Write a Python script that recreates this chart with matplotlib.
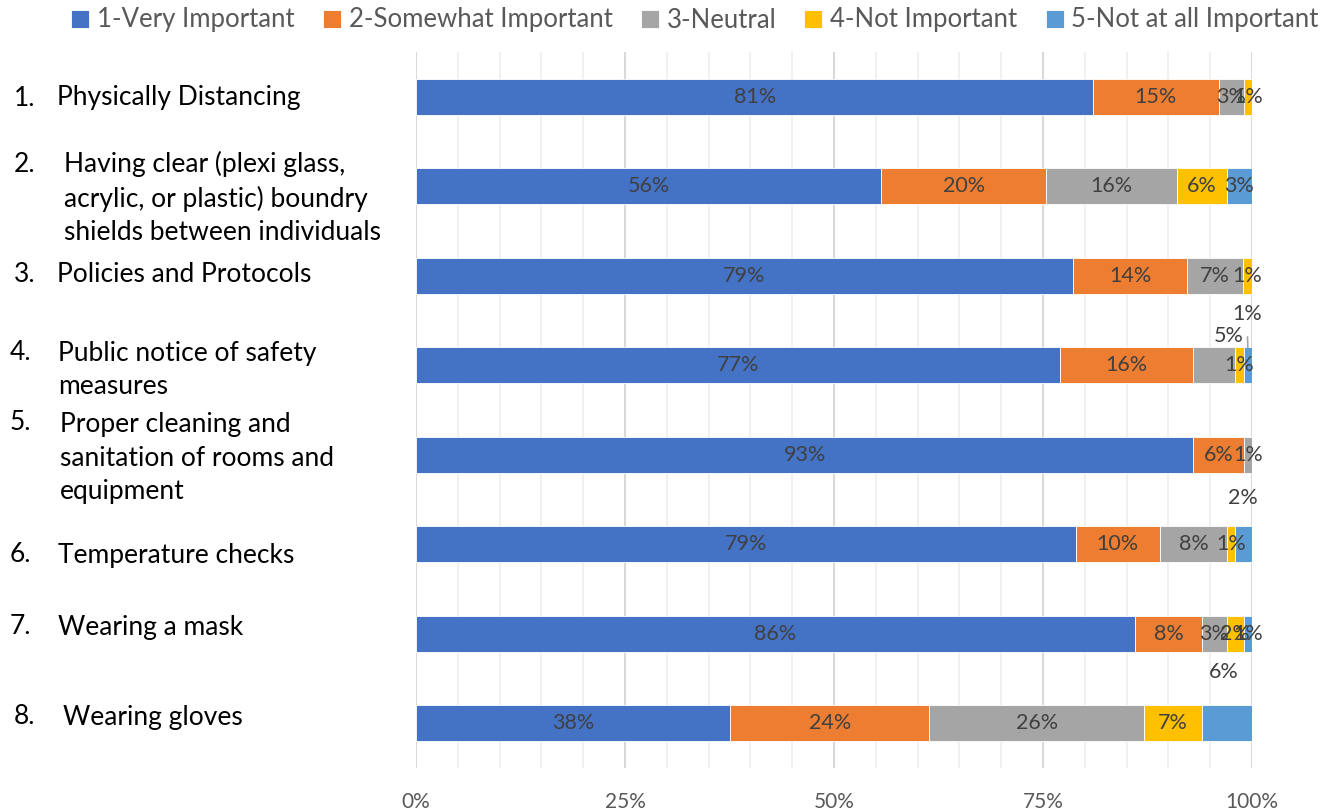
import matplotlib
matplotlib.use('Agg')
import numpy as np
from matplotlib import pyplot
from matplotlib.ticker import MultipleLocator, PercentFormatter

pyplot.rcParams['font.family'] = ['Lato', 'DejaVu Sans']

# Data (percent of respondents)
numbers    = ['1.', '2.', '3.', '4.', '5.', '6.', '7.', '8.']
categories = ['Physically Distancing',
              'Having clear (plexi glass,\nacrylic, or plastic) boundry\nshields between individuals',
              'Policies and Protocols',
              'Public notice of safety\nmeasures',
              'Proper cleaning and\nsanitation of rooms and\nequipment',
              'Temperature checks',
              'Wearing a mask',
              'Wearing gloves']
series_names   = ['1-Very Important', '2-Somewhat Important', '3-Neutral',
                  '4-Not Important', '5-Not at all Important']
very_important = [81.0, 55.6, 78.6, 77.0, 93.0, 78.9, 86.0, 37.6]
somewhat_imp   = [15.0, 19.8, 13.6, 16.0,  6.0, 10.1,  8.0, 23.8]
neutral        = [ 3.0, 15.6,  6.7,  5.0,  1.0,  8.0,  3.0, 25.7]
not_important  = [ 1.0,  6.0,  1.1,  1.0,  0.0,  1.0,  2.0,  6.9]
not_at_all     = [ 0.0,  3.0,  0.0,  1.0,  0.0,  2.0,  1.0,  6.0]

series = [very_important, somewhat_imp, neutral, not_important, not_at_all]
colors = ['#4472C4', '#ED7D31', '#A5A5A5', '#FFC000', '#5B9BD5']

W, H = 1336, 810

# Manually moved data labels: (row, series) -> offset in pixels (dx, dy up)
moved = {
    (3, 2): (14, 29),
    (3, 4): (-1, 33),
    (5, 4): (-1, 46),
    (7, 4): (-3, 51),
}

fig = pyplot.figure(figsize=(W / 100, H / 100), dpi=100)
ax = fig.add_axes([416 / W, 42 / H, 836 / W, 716 / H])

y = np.arange(len(categories))
left = np.zeros(len(categories))
for si, (vals, col, name) in enumerate(zip(series, colors, series_names)):
    vals = np.array(vals)
    ax.barh(y, vals, left=left, height=0.4, color=col, label=name,
            edgecolor='white', linewidth=0.6, zorder=3)
    for ri, v in enumerate(vals):
        if v <= 0:
            continue
        cx = left[ri] + v / 2
        dx, dy = moved.get((ri, si), (0, 0))
        if (ri, si) == (3, 4):
            ax.annotate(f'{v:.0f}%', xy=(cx, ri - 0.2), xytext=(dx * 0.72, dy * 0.72),
                        textcoords='offset points', ha='center', va='center',
                        fontsize=15.5, color='#404040', zorder=5,
                        arrowprops=dict(arrowstyle='-', color='#A6A6A6', lw=1.2,
                                        shrinkA=7, shrinkB=0))
        else:
            ax.annotate(f'{v:.0f}%', xy=(cx, ri), xytext=(dx * 0.72, dy * 0.72),
                        textcoords='offset points', ha='center', va='center',
                        fontsize=15.5, color='#404040', zorder=5)
    left += vals

ax.set_xlim(0, 100)
ax.set_ylim(len(categories) - 0.5, -0.5)
ax.set_yticks([])
ax.xaxis.set_major_locator(MultipleLocator(25))
ax.xaxis.set_minor_locator(MultipleLocator(5))
ax.xaxis.set_major_formatter(PercentFormatter(decimals=0))
ax.tick_params(axis='x', which='both', length=0, labelsize=15,
               labelcolor='#595959', pad=17)
ax.grid(True, axis='x', which='minor', color='#EDEDED', lw=1.2, zorder=0)
ax.grid(True, axis='x', which='major', color='#D9D9D9', lw=1.5, zorder=1)
for s in ax.spines.values():
    s.set_visible(False)

# Category labels placed like the text boxes in the original
num_pos  = [(14, 98), (14, 164), (14, 274), (10, 353), (10, 422), (10, 555), (10, 627), (14, 717)]
text_pos = [(57, 98), (64, 198), (57, 274), (58, 370), (60, 458), (58, 555), (58, 627), (63, 717)]
for num, cat, (nx, ny), (tx, ty) in zip(numbers, categories, num_pos, text_pos):
    fig.text(nx / W, 1 - ny / H, num, fontsize=19, color='black', va='center', ha='left')
    fig.text(tx / W, 1 - ty / H, cat, fontsize=19, color='black', va='center', ha='left',
             linespacing=1.42)

fig.legend(loc='center', bbox_to_anchor=(695 / W, 1 - 20 / H), ncol=5, frameon=False,
           fontsize=18.5, labelcolor='#595959', handlelength=0.7, handleheight=0.7,
           handletextpad=0.3, columnspacing=1.1)

fig.savefig('out.png', dpi=100)
